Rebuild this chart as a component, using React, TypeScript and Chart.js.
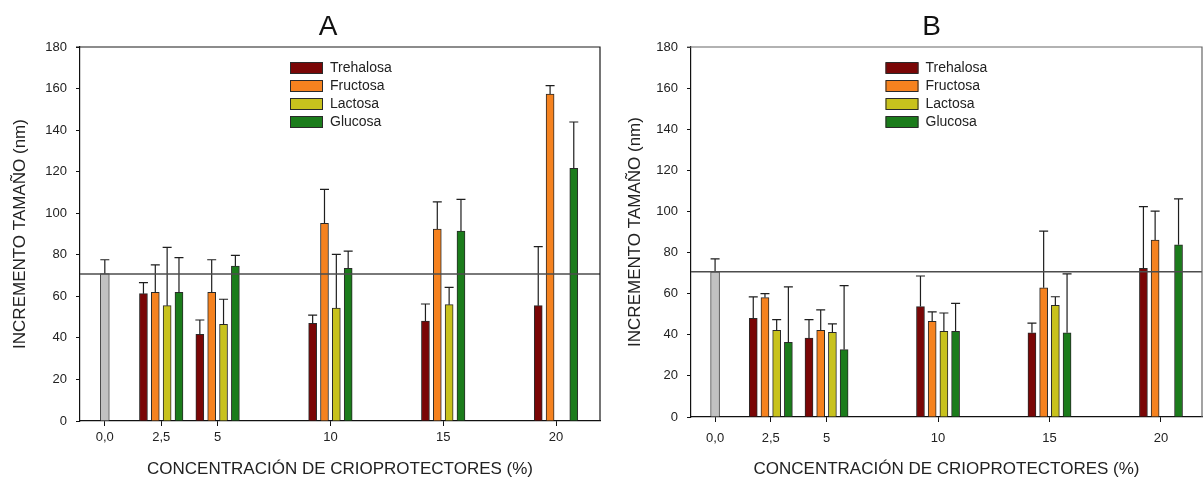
import React, { useEffect, useRef } from 'react';
import { Chart, registerables } from 'chart.js';

Chart.register(...registerables);

// ---------- data ----------
const TICK_VALUES = [0, 2.5, 5, 10, 15, 20];
const TICK_LABELS = ['0,0', '2,5', '5', '10', '15', '20'];
const CONCENTRATIONS = [2.5, 5, 10, 15, 20];
const SERIES_NAMES = ['Trehalosa', 'Fructosa', 'Lactosa', 'Glucosa'];
const SERIES_COLORS = ['#7a0606', '#f5821f', '#c8c21d', '#1b7c1b'];
const CONTROL_COLOR = '#c2c2c2';
const REFERENCE_VALUE = 70.7;

const A_CONTROL = [70.9];
const A_CONTROL_ERR = [6.7];
const A_TREHALOSA = [61.3, 41.7, 47.0, 48.1, 55.5];
const A_TREHALOSA_ERR = [5.3, 6.9, 4.0, 8.2, 28.4];
const A_FRUCTOSA = [61.9, 61.9, 95.1, 92.4, 157.4];
const A_FRUCTOSA_ERR = [13.2, 15.7, 16.4, 13.1, 4.0];
const A_LACTOSA = [55.5, 46.5, 54.4, 56.0, null];
const A_LACTOSA_ERR = [28.1, 12.1, 25.8, 8.3, null];
const A_GLUCOSA = [61.9, 74.6, 73.5, 91.4, 121.6];
const A_GLUCOSA_ERR = [16.7, 5.1, 8.3, 15.3, 22.3];

const B_CONTROL = [70.6];
const B_CONTROL_ERR = [6.3];
const B_TREHALOSA = [48.0, 38.4, 53.7, 41.0, 72.3];
const B_TREHALOSA_ERR = [10.4, 9.0, 14.9, 4.7, 30.0];
const B_FRUCTOSA = [58.1, 42.2, 46.6, 62.9, 86.1];
const B_FRUCTOSA_ERR = [1.9, 9.9, 4.5, 27.5, 14.1];
const B_LACTOSA = [42.2, 41.2, 41.7, 54.3, null];
const B_LACTOSA_ERR = [5.2, 4.1, 8.9, 4.2, null];
const B_GLUCOSA = [36.3, 32.8, 41.7, 41.0, 83.8];
const B_GLUCOSA_ERR = [27.0, 31.1, 13.6, 28.6, 22.3];

const X_TITLE = 'CONCENTRACIÓN DE CRIOPROTECTORES (%)';
const Y_TITLE = 'INCREMENTO TAMAÑO (nm)';

// ---------- style ----------
const FONT = "'Liberation Sans', Arial, sans-serif";
const GROUP_STEP = 0.525; // spacing between grouped bars, axis units

type Num = number | null;

function makeDatasets(control: number[], controlErr: number[], series: Num[][], errors: Num[][]) {
  const ds: any[] = [
    {
      label: 'Control',
      data: [{ x: TICK_VALUES[0], y: control[0] }],
      errors: controlErr,
      backgroundColor: CONTROL_COLOR,
      borderColor: '#4a4a4a',
      borderWidth: 1,
      barThickness: 9,
      inLegend: false,
    },
  ];
  series.forEach((vals, k) => {
    const data: any[] = [];
    const errs: number[] = [];
    vals.forEach((v, i) => {
      if (v == null) return;
      data.push({ x: CONCENTRATIONS[i] + (k - 1.5) * GROUP_STEP, y: v });
      errs.push(errors[k][i] as number);
    });
    ds.push({
      label: SERIES_NAMES[k],
      data,
      errors: errs,
      backgroundColor: SERIES_COLORS[k],
      borderColor: '#2a2a2a',
      borderWidth: 1,
      barThickness: 8,
      inLegend: true,
    });
  });
  return ds;
}

interface PanelCfg {
  letter: string;
  titleDx: number;
  legendDx: number;
  frameColor: string;
}

function decorPlugin(cfg: PanelCfg) {
  return {
    id: 'panelDecor',
    afterDatasetsDraw(chart: any) {
      const { ctx, chartArea } = chart;
      const yScale = chart.scales.y;
      ctx.save();
      // error bars (upper only)
      ctx.strokeStyle = '#1e1e1e';
      ctx.lineWidth = 1.2;
      const cap = 9;
      chart.data.datasets.forEach((ds: any, di: number) => {
        const meta = chart.getDatasetMeta(di);
        meta.data.forEach((el: any, i: number) => {
          const raw = ds.data[i];
          const err = ds.errors[i];
          if (raw == null || err == null) return;
          const yBar = yScale.getPixelForValue(raw.y);
          const yTop = yScale.getPixelForValue(raw.y + err);
          ctx.beginPath();
          ctx.moveTo(el.x, yBar);
          ctx.lineTo(el.x, yTop);
          ctx.moveTo(el.x - cap / 2, yTop);
          ctx.lineTo(el.x + cap / 2, yTop);
          ctx.stroke();
        });
      });
      // reference line
      const yRef = yScale.getPixelForValue(REFERENCE_VALUE);
      ctx.strokeStyle = '#4d4d4d';
      ctx.lineWidth = 1.5;
      ctx.beginPath();
      ctx.moveTo(chartArea.left, yRef);
      ctx.lineTo(chartArea.right, yRef);
      ctx.stroke();
      // frame top and right
      ctx.strokeStyle = cfg.frameColor;
      ctx.lineWidth = 1.2;
      ctx.beginPath();
      ctx.moveTo(chartArea.left - 4, chartArea.top);
      ctx.lineTo(chartArea.right, chartArea.top);
      ctx.lineTo(chartArea.right, chartArea.bottom);
      ctx.stroke();
      // legend
      const cx = (chartArea.left + chartArea.right) / 2;
      const lx = cx + cfg.legendDx;
      let row = 0;
      ctx.font = `14px ${FONT}`;
      ctx.textBaseline = 'middle';
      ctx.textAlign = 'left';
      chart.data.datasets.forEach((ds: any) => {
        if (!ds.inLegend) return;
        const yc = chartArea.top + 21 + row * 18;
        ctx.fillStyle = ds.backgroundColor;
        ctx.fillRect(lx, yc - 5.5, 33, 11);
        ctx.strokeStyle = '#2a2a2a';
        ctx.lineWidth = 1;
        ctx.strokeRect(lx + 0.5, yc - 5.5, 32, 11);
        ctx.fillStyle = '#222';
        ctx.fillText(ds.label, lx + 40, yc);
        row++;
      });
      // panel letter
      ctx.font = `28px ${FONT}`;
      ctx.textAlign = 'center';
      ctx.textBaseline = 'alphabetic';
      ctx.fillStyle = '#111';
      ctx.fillText(cfg.letter, cx + cfg.titleDx, 35);
      ctx.restore();
    },
  };
}

function makeConfig(opts: {
  datasets: any[];
  xMin: number;
  xMax: number;
  yWidth: number;
  xHeight: number;
  padRight: number;
  xTickPad: number;
  yTitlePad: number;
  cfg: PanelCfg;
}) {
  return {
    type: 'bar' as const,
    data: { datasets: opts.datasets },
    options: {
      responsive: false,
      animation: false as const,
      layout: { padding: { top: 47, left: 0, right: opts.padRight, bottom: 0 } },
      plugins: {
        legend: { display: false },
        tooltip: { enabled: false },
        title: { display: false },
      },
      datasets: { bar: { grouped: false } },
      scales: {
        x: {
          type: 'linear' as const,
          min: opts.xMin,
          max: opts.xMax,
          offset: false,
          afterBuildTicks: (s: any) => {
            s.ticks = TICK_VALUES.map((v) => ({ value: v }));
          },
          afterFit: (s: any) => {
            s.height = opts.xHeight;
          },
          ticks: {
            autoSkip: false,
            maxRotation: 0,
            padding: opts.xTickPad,
            color: '#222',
            font: { family: FONT, size: 13 },
            callback: (_v: any, i: number) => TICK_LABELS[i],
          },
          grid: { drawOnChartArea: false, drawTicks: true, tickLength: 5, color: '#111', offset: false },
          border: { display: true, color: '#111', width: 1.2 },
          title: {
            display: true,
            text: X_TITLE,
            color: '#222',
            font: { family: FONT, size: 17 },
            padding: { top: 0, bottom: 3 },
          },
        },
        y: {
          min: 0,
          max: 180,
          afterFit: (s: any) => {
            s.width = opts.yWidth;
          },
          ticks: { stepSize: 20, padding: 9, color: '#222', font: { family: FONT, size: 13 } },
          grid: { drawOnChartArea: false, drawTicks: true, tickLength: 4, color: '#111' },
          border: { display: true, color: '#111', width: 1.2 },
          title: {
            display: true,
            text: Y_TITLE,
            color: '#222',
            font: { family: FONT, size: 17 },
            padding: { top: opts.yTitlePad, bottom: 0 },
          },
        },
      },
    },
    plugins: [decorPlugin(opts.cfg)],
  };
}

const A_WIDTH = 612;
const B_WIDTH = 592;
const HEIGHT = 483;

export default function App() {
  const refA = useRef<HTMLCanvasElement>(null);
  const refB = useRef<HTMLCanvasElement>(null);

  useEffect(() => {
    const chartA = new Chart(
      refA.current as HTMLCanvasElement,
      makeConfig({
        datasets: makeDatasets(
          A_CONTROL,
          A_CONTROL_ERR,
          [A_TREHALOSA, A_FRUCTOSA, A_LACTOSA, A_GLUCOSA],
          [A_TREHALOSA_ERR, A_FRUCTOSA_ERR, A_LACTOSA_ERR, A_GLUCOSA_ERR]
        ),
        xMin: -1.1,
        xMax: 21.95,
        yWidth: 80,
        xHeight: 62,
        padRight: 12,
        xTickPad: 4,
        yTitlePad: 10,
        cfg: { letter: 'A', titleDx: -12, legendDx: -50, frameColor: '#1a1a1a' },
      }) as any
    );
    const chartB = new Chart(
      refB.current as HTMLCanvasElement,
      makeConfig({
        datasets: makeDatasets(
          B_CONTROL,
          B_CONTROL_ERR,
          [B_TREHALOSA, B_FRUCTOSA, B_LACTOSA, B_GLUCOSA],
          [B_TREHALOSA_ERR, B_FRUCTOSA_ERR, B_LACTOSA_ERR, B_GLUCOSA_ERR]
        ),
        xMin: -1.08,
        xMax: 21.84,
        yWidth: 79,
        xHeight: 66,
        padRight: 2,
        xTickPad: 9,
        yTitlePad: 13,
        cfg: { letter: 'B', titleDx: -15, legendDx: -61, frameColor: '#666' },
      }) as any
    );
    return () => {
      chartA.destroy();
      chartB.destroy();
    };
  }, []);

  return (
    <div style={{ position: 'absolute', left: 0, top: 0, width: 1204, height: HEIGHT, background: '#fff' }}>
      <canvas
        ref={refA}
        width={A_WIDTH}
        height={HEIGHT}
        style={{ position: 'absolute', left: 0, top: 0, width: A_WIDTH, height: HEIGHT }}
      />
      <canvas
        ref={refB}
        width={B_WIDTH}
        height={HEIGHT}
        style={{ position: 'absolute', left: A_WIDTH, top: 0, width: B_WIDTH, height: HEIGHT }}
      />
    </div>
  );
}
